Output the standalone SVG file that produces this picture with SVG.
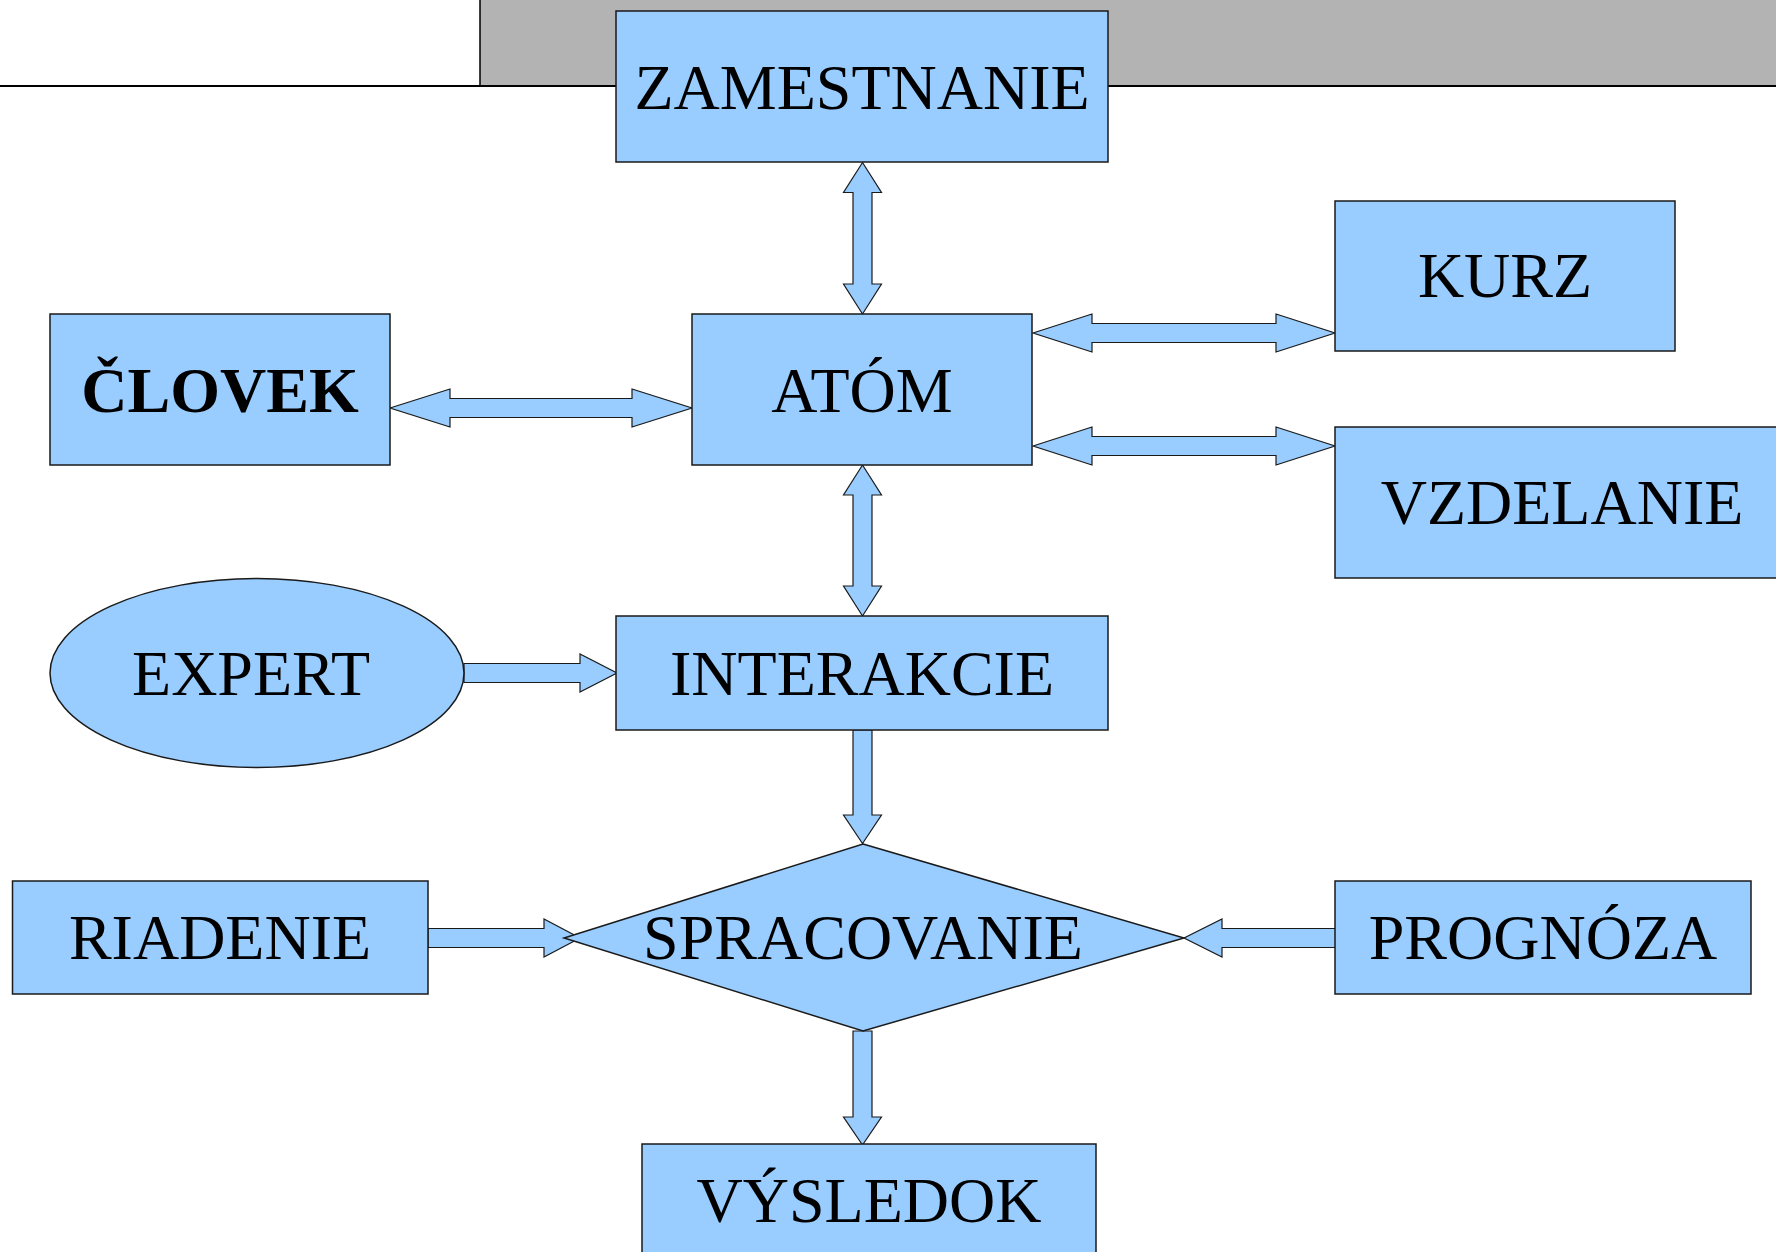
<svg xmlns="http://www.w3.org/2000/svg" width="1776" height="1252" viewBox="0 0 1776 1252">
<style>
.box{fill:#99ccff;stroke:#1a1a1a;stroke-width:1.5}
.arr{fill:#99ccff;stroke:#1a1a1a;stroke-width:1.2;stroke-linejoin:miter}
.t{font-family:"Liberation Serif","Times New Roman",serif;font-size:64px;fill:#000;text-anchor:middle}
.b{font-weight:bold}
</style>
<rect x="0" y="0" width="1776" height="1252" fill="#ffffff"/>
<g id="background">
<rect x="480" y="-2" width="1300" height="88" fill="#b3b3b3" stroke="#000" stroke-width="1.5"/>
<line x1="0" y1="86" x2="1776" y2="86" stroke="#000" stroke-width="2"/>
</g>
<g id="connectors">
<polygon class="arr" points="390,408 450,389 450,398.5 632,398.5 632,389 692,408 632,427 632,417.5 450,417.5 450,427"/>
<polygon class="arr" points="1033,333 1092,314 1092,323.5 1276,323.5 1276,314 1335,333 1276,352 1276,342.5 1092,342.5 1092,352"/>
<polygon class="arr" points="1033,446 1092,427 1092,436.5 1276,436.5 1276,427 1335,446 1276,465 1276,455.5 1092,455.5 1092,465"/>
<polygon class="arr" points="862.5,162.5 881.5,192.5 872,192.5 872,284 881.5,284 862.5,314 843.5,284 853,284 853,192.5 843.5,192.5"/>
<polygon class="arr" points="862.5,465 881.5,495 872,495 872,586 881.5,586 862.5,616 843.5,586 853,586 853,495 843.5,495"/>
<polygon class="arr" points="853,730 872,730 872,815 881.5,815 862.5,843.5 843.5,815 853,815"/>
<polygon class="arr" points="853,1031 872,1031 872,1117 881.5,1117 862.5,1145 843.5,1117 853,1117"/>
<polygon class="arr" points="464,663.5 580,663.5 580,654 617,673 580,692 580,682.5 464,682.5"/>
<polygon class="arr" points="428,928.5 544,928.5 544,919 580,938 544,957 544,947.5 428,947.5"/>
<polygon class="arr" points="1336,928.5 1222,928.5 1222,919 1184,938 1222,957 1222,947.5 1336,947.5"/>
</g>
<g id="zamestnanie">
<rect class="box" x="616" y="11" width="492" height="151"/>
<text class="t" x="862" y="109">ZAMESTNANIE</text>
</g>
<g id="atom">
<rect class="box" x="692" y="314" width="340" height="151"/>
<text class="t" x="862" y="412">ATÓM</text>
</g>
<g id="clovek">
<rect class="box" x="50" y="314" width="340" height="151"/>
<text class="t b" x="220" y="412">ČLOVEK</text>
</g>
<g id="kurz">
<rect class="box" x="1335" y="201" width="340" height="150"/>
<text class="t" x="1505" y="297">KURZ</text>
</g>
<g id="vzdelanie">
<rect class="box" x="1335" y="427" width="460" height="151"/>
<text class="t" x="1562" y="524">VZDELANIE</text>
</g>
<g id="expert">
<ellipse class="box" cx="257" cy="673" rx="207" ry="94.5"/>
<text class="t" x="251" y="695">EXPERT</text>
</g>
<g id="interakcie">
<rect class="box" x="616" y="616" width="492" height="114"/>
<text class="t" x="862" y="695">INTERAKCIE</text>
</g>
<g id="spracovanie">
<polygon class="box" points="863,844 1184,938 863,1031 564,938"/>
<text class="t" x="863" y="959">SPRACOVANIE</text>
</g>
<g id="riadenie">
<rect class="box" x="12.5" y="881" width="415.5" height="113"/>
<text class="t" x="220" y="959">RIADENIE</text>
</g>
<g id="prognoza">
<rect class="box" x="1335" y="881" width="416" height="113"/>
<text class="t" x="1543" y="959">PROGNÓZA</text>
</g>
<g id="vysledok">
<rect class="box" x="642" y="1144" width="454" height="120"/>
<text class="t" x="869" y="1222">VÝSLEDOK</text>
</g>
</svg>
